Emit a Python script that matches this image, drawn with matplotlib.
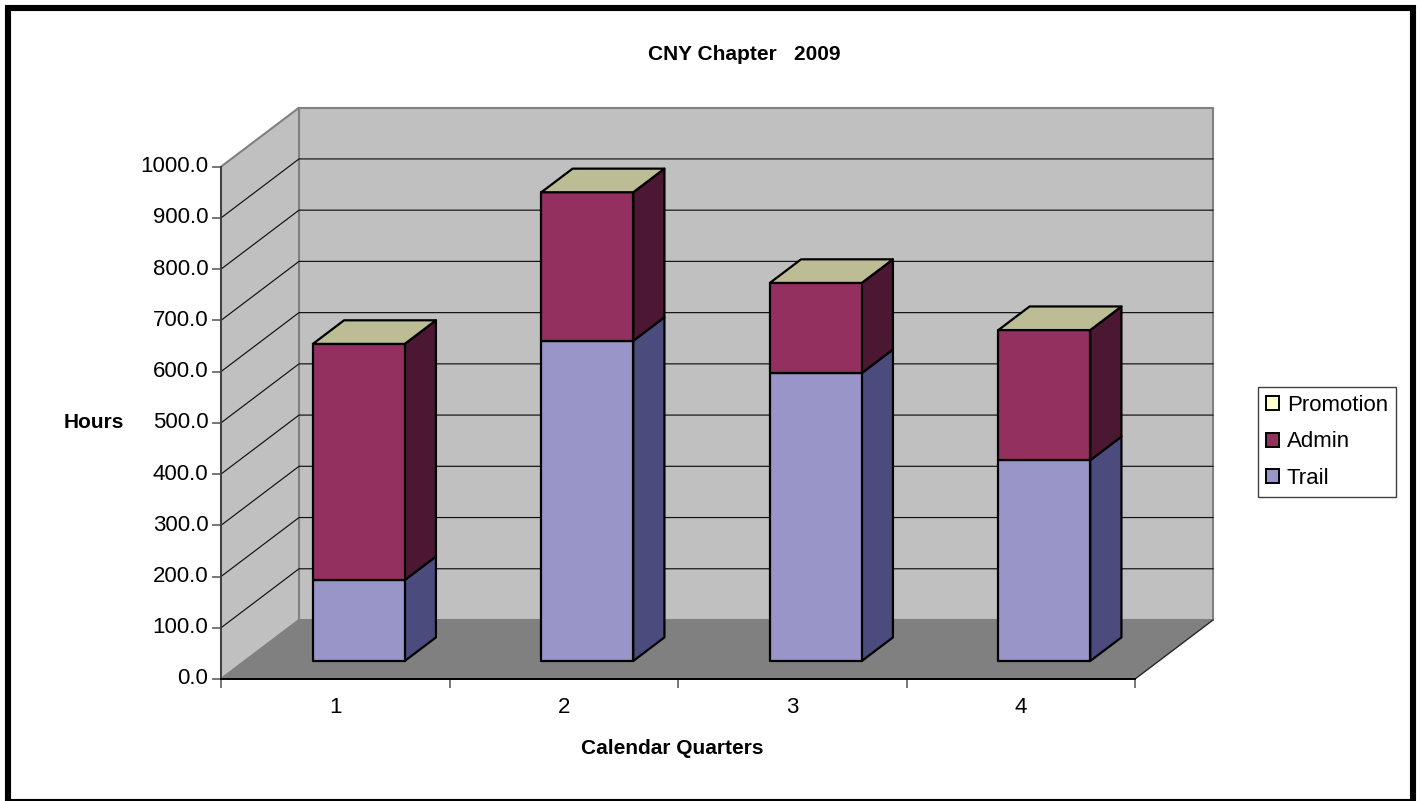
import matplotlib
matplotlib.use("Agg")
import matplotlib.pyplot as plt
from matplotlib.patches import Polygon, Patch, Rectangle

plt.rcParams['font.family'] = ['Liberation Sans', 'DejaVu Sans']

# data
quarters = ['1', '2', '3', '4']
trail = [158, 625, 562, 392]
admin = [461, 290, 176, 254]
promotion = [0, 0, 0, 0]
yticks = [0, 100, 200, 300, 400, 500, 600, 700, 800, 900, 1000]

W, H = 1420, 801
fig = plt.figure(figsize=(W / 100, H / 100), dpi=100, facecolor='white')

# axes = the front plane of the fake 3d box
ax = fig.add_axes([221 / W, (H - 679) / H, 914 / W, 512.3 / H])
ax.set_xlim(0, 4)
ax.set_ylim(0, 1000)
ax.patch.set_visible(False)

# oblique offset of the back of the box, in data units
DX = 78 / 228.5
DY = 59 / 0.5123
BAR_W = 0.402
BAR_SHIFT = -0.001
D0, D1 = 0.305, 0.705  # bar front and back depth


def pt(x, y, d):
    return (x + d * DX, y + d * DY)


def face(pts, color, z, edge='black', lw=1.6):
    ax.add_patch(Polygon(pts, closed=True, facecolor=color, edgecolor=edge, linewidth=lw,
                         clip_on=False, zorder=z, joinstyle='round'))


# walls and floor
face([pt(0, 0, 1), pt(4, 0, 1), pt(4, 1000, 1), pt(0, 1000, 1)], '#c0c0c0', 1, '#808080', 1.5)
face([pt(0, 0, 0), pt(0, 0, 1), pt(0, 1000, 1), pt(0, 1000, 0)], '#c0c0c0', 1, '#808080', 1.5)
face([pt(0, 0, 0), pt(4, 0, 0), pt(4, 0, 1), pt(0, 0, 1)], '#808080', 1.5, '#808080', 0.8)
ax.plot(*zip(pt(4, 0, 0), pt(4, 0, 1)), color='#222222', lw=0.9, clip_on=False, zorder=1.6)

# gridlines
for v in yticks[1:-1]:
    a, b, c = pt(0, v, 0), pt(0, v, 1), pt(4, v, 1)
    ax.plot([a[0], b[0], c[0]], [a[1], b[1], c[1]], color='#111111', lw=0.85, clip_on=False, zorder=2)

# bars
series = [
    (trail, '#9a95c9', '#4b4b7d'),
    (admin, '#933060', '#4c1733'),
]
for i in range(len(quarters)):
    x0 = i + 0.5 + BAR_SHIFT - BAR_W / 2
    x1 = i + 0.5 + BAR_SHIFT + BAR_W / 2
    base = 0
    for vals, col, side in series:
        y0 = base
        y1 = base + vals[i]
        face([pt(x1, y0, D0), pt(x1, y0, D1), pt(x1, y1, D1), pt(x1, y1, D0)], side, 3 + i)
        face([pt(x0, y0, D0), pt(x1, y0, D0), pt(x1, y1, D0), pt(x0, y1, D0)], col, 3.1 + i)
        base = y1
    base += promotion[i]
    face([pt(x0, base, D0), pt(x1, base, D0), pt(x1, base, D1), pt(x0, base, D1)], '#bdbd95', 3.2 + i)

# axes
for s in ['top', 'right']:
    ax.spines[s].set_visible(False)
ax.spines['left'].set_color('#404040')
ax.spines['left'].set_linewidth(1.4)
ax.spines['left'].set_zorder(2.5)
ax.spines['bottom'].set_color('black')
ax.spines['bottom'].set_linewidth(1.4)
ax.spines['bottom'].set_zorder(2.5)
ax.set_yticks(yticks)
ax.set_yticklabels([f"{v:.1f}" for v in yticks], fontsize=16, va='center')
ax.set_xticks([0, 1, 2, 3, 4])
ax.set_xticklabels([])
ax.set_xticks([0.5, 1.5, 2.5, 3.5], minor=True)
ax.set_xticklabels(quarters, minor=True, fontsize=16)
ax.tick_params(axis='x', which='major', length=6.5, width=1.2, color='#606060')
ax.tick_params(axis='x', which='minor', length=0, pad=13)
ax.tick_params(axis='y', length=6.5, width=1.2, color='#606060', pad=2.5)

# texts
fig.text(744 / W, 1 - 55 / H, 'CNY Chapter   2009', fontsize=15, fontweight='bold', ha='center', va='center')
fig.text(94 / W, 1 - 423 / H, 'Hours', fontsize=15, fontweight='bold', ha='center', va='center')
fig.text(672 / W, 1 - 749 / H, 'Calendar Quarters', fontsize=15, fontweight='bold', ha='center', va='center')

# legend
handles = [Patch(facecolor='#ffffcc', edgecolor='black', lw=1.4, label='Promotion'),
           Patch(facecolor='#933060', edgecolor='black', lw=1.4, label='Admin'),
           Patch(facecolor='#9a95c9', edgecolor='black', lw=1.4, label='Trail')]
leg = fig.legend(handles=handles, loc='lower left', bbox_to_anchor=(1258 / W, 1 - 497 / H),
                 fontsize=16, frameon=True, fancybox=False, edgecolor='#404040', framealpha=1,
                 handlelength=0.6, handleheight=0.6, handletextpad=0.33, labelspacing=0.7,
                 borderpad=0.36, borderaxespad=0)
leg.get_frame().set_linewidth(1)

# black frame round the whole chart
fig.add_artist(Rectangle((8 / W, 1 - 802 / H), 1405 / W, 794 / H, transform=fig.transFigure,
                         fill=False, edgecolor='black', linewidth=4.4))

fig.savefig('out.png', dpi=100)
